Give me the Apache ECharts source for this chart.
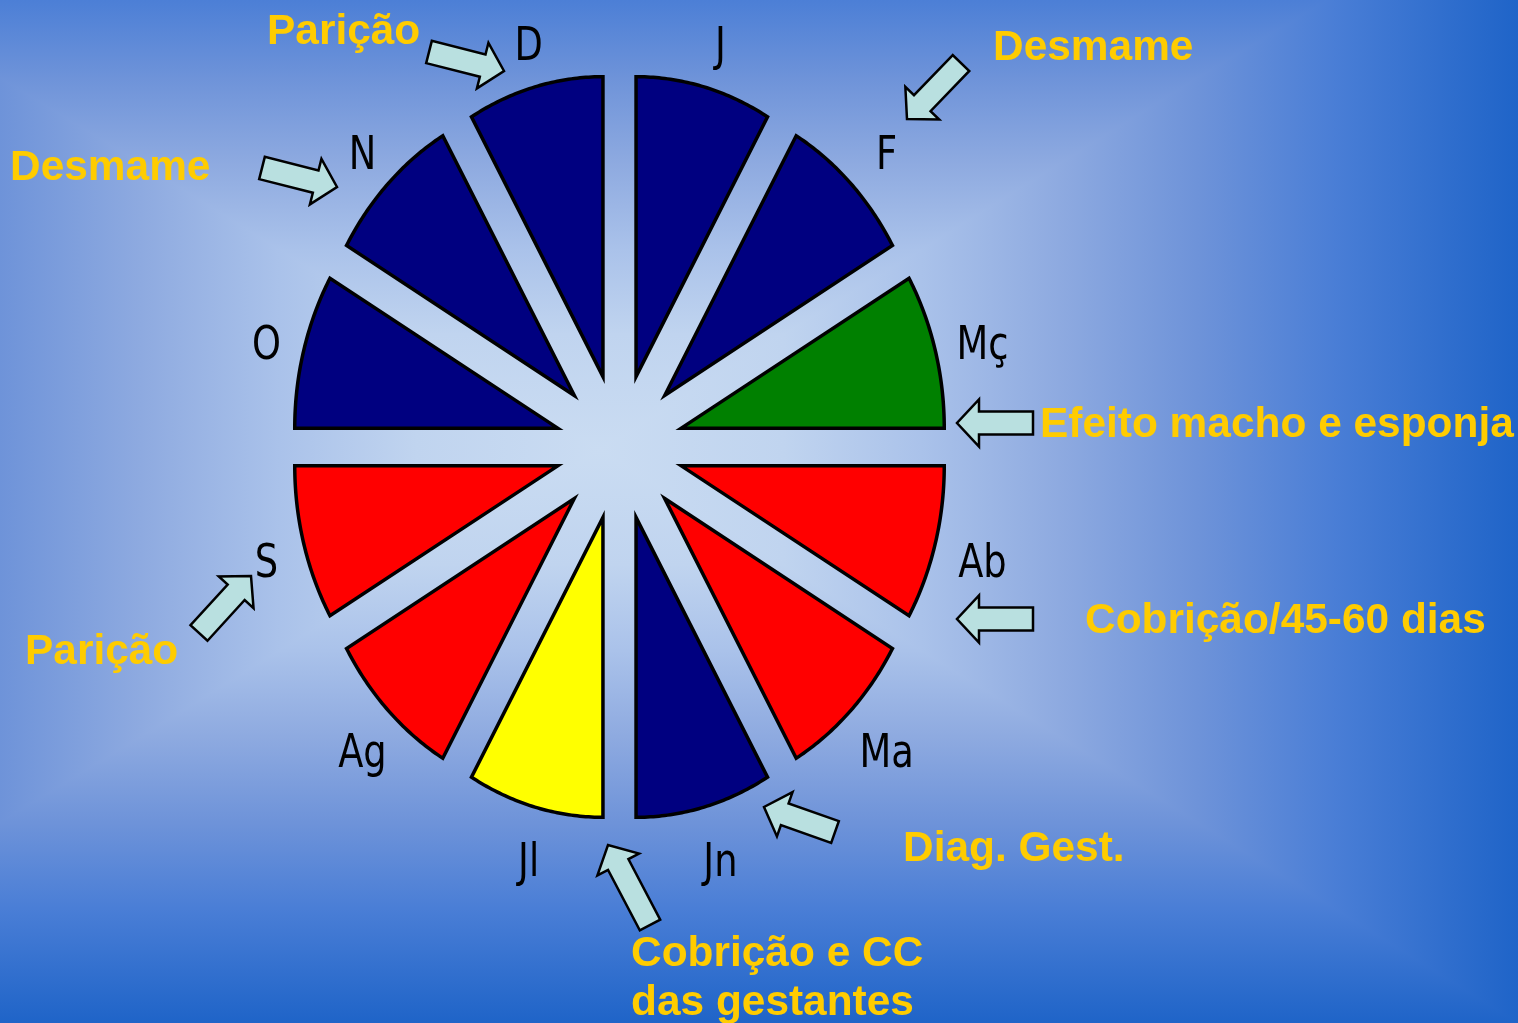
<!DOCTYPE html>
<html>
<head>
<meta charset="utf-8">
<script src="https://cdn.jsdelivr.net/npm/echarts@6/dist/echarts.min.js"></script>
<style>
html,body{margin:0;padding:0;width:1518px;height:1023px;overflow:hidden;}
#bg{position:absolute;left:0;top:0;width:1518px;height:1023px;
background-image:
 linear-gradient(to right,#6e93d9 0%,#8eaae0 9.3%,#aac2ea 18.4%,#c0d4ef 27.4%,#cadcf2 39.5%,#c0d4ef 51.6%,#aac2ea 60.7%,#8eaae0 69.8%,#6e93d9 78.9%,#4a7ed6 87.9%,#1f64c8 100%),
 linear-gradient(to bottom,#4c7fd6 0%,#6e93d9 7.6%,#8eaae0 16%,#aac2ea 24.4%,#c0d4ef 32.7%,#cadcf2 44%,#c0d4ef 55.2%,#aac2ea 63.6%,#8eaae0 72%,#6e93d9 80.4%,#4a7ed6 88.8%,#1f64c8 100%);
background-blend-mode:darken;}
#chart{position:absolute;left:0;top:0;width:1518px;height:1023px;}
</style>
</head>
<body>
<div id="bg"></div>
<div id="chart"></div>
<script>
// ---- data ----
const months = ['J','F','Mç','Ab','Ma','Jn','Jl','Ag','S','O','N','D'];
const monthValues = [1,1,1,1,1,1,1,1,1,1,1,1];
// ---- styles ----
const NAVY='#000080', GREEN='#008000', RED='#ff0000', YELLOW='#ffff00';
const sliceColors = [NAVY,NAVY,GREEN,RED,RED,NAVY,YELLOW,RED,RED,NAVY,NAVY,NAVY];
const annotationTexts = ['Parição','Desmame','Desmame','Efeito macho e esponja','Cobrição/45-60 dias','Parição','Diag. Gest.','Cobrição e CC','das gestantes'];
const annotationPos = [[267,32],[993,48],[10,168],[1040,425],[1085,621],[25,652],[903,849],[631,954],[631,1003]];
const arrowPos = [
  [[429,52],[504,71]],
  [[961,63],[907,119]],
  [[262,168],[337,187]],
  [[1033,423],[957,423]],
  [[1033,619],[957,619]],
  [[199,633],[251,576]],
  [[835,832],[764,807]],
  [[650,925],[608,845]]
];

const total = monthValues.reduce((a,b)=>a+b,0);
const starts = []; let acc = 0;
monthValues.forEach(v=>{starts.push(acc); acc+=v;});
const R = 0.8105, D = 0.197, LABEL_RX = 1.142, LABEL_RY = 1.142, LABEL_DX = 5, LABEL_DY = 9;

function renderItem(params, api){
  const i = params.dataIndex;
  const v = api.value(1);
  const a0 = starts[i]/total*2*Math.PI, a1 = (starts[i]+v)/total*2*Math.PI;
  const am = (a0+a1)/2;
  const ox = D*Math.sin(am), oy = D*Math.cos(am);
  const pts = [api.coord([ox, oy])];
  const N = 48;
  for(let k=0;k<=N;k++){
    const a = a0+(a1-a0)*k/N;
    pts.push(api.coord([ox+R*Math.sin(a), oy+R*Math.cos(a)]));
  }
  const lp = api.coord([LABEL_RX*Math.sin(am), LABEL_RY*Math.cos(am)]);
  return {type:'group', children:[
    {type:'polygon', shape:{points:pts}, style:{fill:sliceColors[i], stroke:'#000', lineWidth:3.5, lineJoin:'miter'}},
    {type:'text', x:lp[0]+LABEL_DX, y:lp[1]+LABEL_DY, scaleX:0.8, style:{text:months[i], fill:'#000', fontSize:46, fontFamily:'DejaVu Sans', align:'center', verticalAlign:'middle'}}
  ]};
}

function arrowPts(tail, tip, shaftW, headW, headL){
  const dx=tip[0]-tail[0], dy=tip[1]-tail[1], L=Math.hypot(dx,dy);
  const ux=dx/L, uy=dy/L, px=-uy, py=ux;
  const bx=tip[0]-ux*headL, by=tip[1]-uy*headL;
  const s=shaftW/2, h=headW/2;
  return [[tail[0]+px*s,tail[1]+py*s],[bx+px*s,by+py*s],[bx+px*h,by+py*h],[tip[0],tip[1]],
          [bx-px*h,by-py*h],[bx-px*s,by-py*s],[tail[0]-px*s,tail[1]-py*s]];
}

const graphics = [];
arrowPos.forEach(a=>{
  graphics.push({type:'polygon', shape:{points:arrowPts(a[0],a[1],23,47,22)},
    style:{fill:'#b9e0e0', stroke:'#000', lineWidth:2.5, lineJoin:'miter'}, z:10});
});
annotationTexts.forEach((t,i)=>{
  graphics.push({type:'text', x:annotationPos[i][0], y:annotationPos[i][1], scaleX:1.01, z:11,
    style:{text:t, fill:'#ffcc00', fontSize:42, fontWeight:'bold', fontFamily:'Liberation Sans', align:'left', verticalAlign:'middle'}});
});

const chart = echarts.init(document.getElementById('chart'), null, {renderer:'canvas'});
chart.setOption({
  backgroundColor:'transparent',
  animation:false,
  grid:{left:295, top:77, width:649, height:740},
  xAxis:{type:'value', min:-1, max:1, show:false},
  yAxis:{type:'value', min:-1, max:1, show:false},
  series:[{
    type:'custom',
    coordinateSystem:'cartesian2d',
    renderItem: renderItem,
    encode:{x:0, y:1},
    clip:false,
    data: months.map((m,i)=>({name:m, value:[i, monthValues[i]]}))
  }],
  graphic: graphics
});
</script>
</body>
</html>
